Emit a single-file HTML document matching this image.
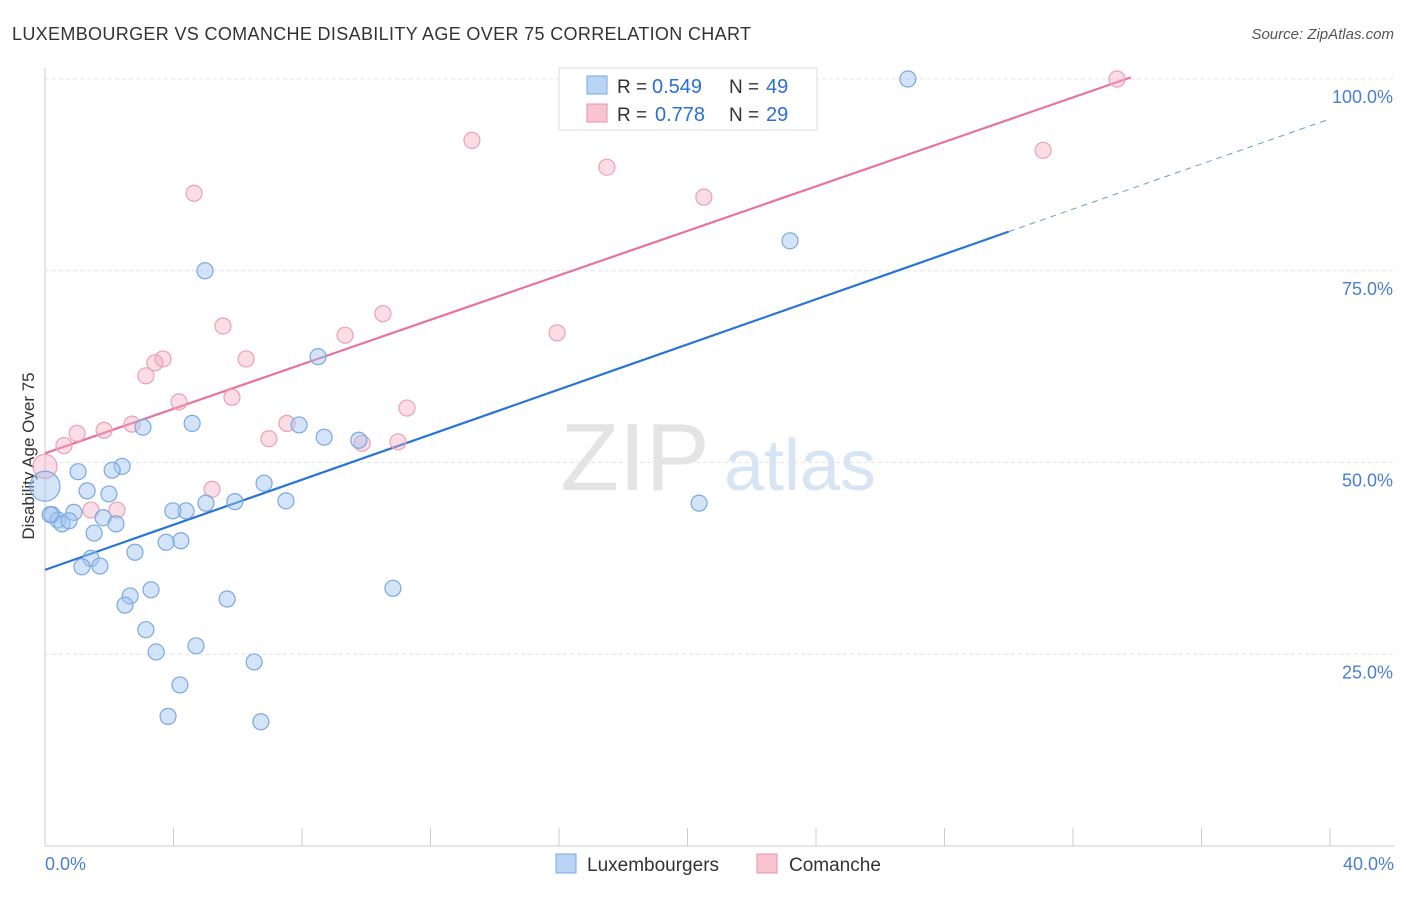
<!DOCTYPE html>
<html><head><meta charset="utf-8"><style>
body{margin:0;background:#fff;font-family:"Liberation Sans",sans-serif}
svg text{font-family:"Liberation Sans",sans-serif}
</style></head><body>
<svg id="c" width="1406" height="892" xmlns="http://www.w3.org/2000/svg">
<text x="12" y="40" font-size="18" fill="#333" textLength="739" lengthAdjust="spacing">LUXEMBOURGER VS COMANCHE DISABILITY AGE OVER 75 CORRELATION CHART</text>
<text x="1394" y="39" font-size="15" fill="#555" text-anchor="end" font-style="italic">Source: ZipAtlas.com</text>
<g id="grid"></g>
<g>
<text x="635" y="490" font-size="96" fill="#e4e4e4" text-anchor="middle" font-family="Liberation Serif">ZIP</text>
<text x="800" y="490" font-size="72" fill="#d6e4f4" text-anchor="middle">atlas</text>
</g>
<text transform="translate(34,456) rotate(-90)" font-size="17" fill="#333" text-anchor="middle">Disability Age Over 75</text>
<g id="lines"></g>
<g id="pts"></g>
<g>
<rect x="559" y="68" width="258" height="62" fill="#fff" stroke="#ddd"/>
<rect x="587" y="76" width="20" height="18" fill="#b8d3f4" stroke="#7aa8e0"/>
<rect x="587" y="104" width="20" height="18" fill="#f8c4d2" stroke="#e890a8"/>
<text x="617" y="93" font-size="19" fill="#333">R =</text>
<text x="652" y="93" font-size="20" fill="#2a6fd6">0.549</text>
<text x="729" y="93" font-size="19" fill="#333">N =</text>
<text x="766" y="93" font-size="20" fill="#2a6fd6">49</text>
<text x="617" y="121" font-size="19" fill="#333">R =</text>
<text x="655" y="121" font-size="20" fill="#2a6fd6">0.778</text>
<text x="729" y="121" font-size="19" fill="#333">N =</text>
<text x="766" y="121" font-size="20" fill="#2a6fd6">29</text>
</g>
<g>
<rect x="556" y="854" width="20" height="19" fill="#b8d3f4" stroke="#7aa8e0"/>
<text x="587" y="871" font-size="19" fill="#333">Luxembourgers</text>
<rect x="757" y="854" width="20" height="19" fill="#f8c4d2" stroke="#e890a8"/>
<text x="789" y="871" font-size="19" fill="#333">Comanche</text>
</g>
</svg>
<script>
const xTicks=[0,4,8,12,16,20,24,28,32,36,40];
const yTicks=[25,50,75,100];
const blueX=[26.86,23.19,4.98,8.50,20.36,10.83,3.05,4.58,7.91,8.69,9.77,2.40,1.03,2.09,1.31,1.99,6.82,5.91,7.50,5.01,4.39,3.98,0.90,1.81,2.21,0.22,0.40,0.53,0.75,1.53,4.23,3.77,2.80,1.43,1.71,1.15,3.30,2.65,2.49,5.67,3.14,4.70,3.46,6.51,4.20,3.83,6.72,0,0.16];
const blueY=[100,78.9,75.0,63.8,44.7,33.6,54.6,55.1,54.9,53.3,52.9,49.5,48.8,49.0,46.3,45.9,47.3,44.9,45.0,44.7,43.7,43.7,43.5,42.8,42.0,43.2,42.5,42.0,42.4,40.8,39.8,39.6,38.3,37.5,36.5,36.4,33.4,32.6,31.4,32.2,28.2,26.1,25.3,24.0,21.0,16.9,16.2,46.9,43.2];
const blueR=blueX.map((v,i)=>i===47?15:8);
const pinkX=[33.37,13.29,17.49,4.64,20.51,31.07,5.54,10.52,9.34,15.94,3.67,3.42,6.26,3.14,4.17,5.82,11.27,2.71,1.84,1.00,0.59,7.53,6.97,9.87,10.99,5.20,1.43,2.24,0];
const pinkY=[100,92.0,88.5,85.1,84.6,90.7,67.8,69.4,66.6,66.9,63.5,63.0,63.5,61.3,57.9,58.5,57.1,55.0,54.2,53.8,52.2,55.1,53.1,52.5,52.7,46.5,43.8,43.8,49.5];
const pinkR=pinkX.map((v,i)=>i===28?12:8);
const blueTrend=[36.0,1.47];const pinkTrend=[51.2,1.45];
const X=v=>45+v*32.125, Y=v=>846-v*7.67;
const NS='http://www.w3.org/2000/svg';
function mk(t,a,p){const e=document.createElementNS(NS,t);for(const k in a)e.setAttribute(k,a[k]);p.appendChild(e);return e;}
const g=document.getElementById('grid');
yTicks.forEach(v=>{const l=mk('line',{x1:45,x2:1394,y1:Y(v),y2:Y(v),stroke:'#e4e4e4','stroke-dasharray':'4,3'},g);


const t=mk('text',{x:1393,y:Y(v)+24,'font-size':18,fill:'#4a7fd0','text-anchor':'end'},g);t.textContent=v.toFixed(1)+'%';

});
const ax=mk('line',{x1:45,x2:1394,y1:846,y2:846,stroke:'#ccc'},g);


const ay=mk('line',{x1:45,x2:45,y1:68,y2:846,stroke:'#ccc'},g);


xTicks.forEach(v=>{const l=mk('line',{x1:X(v),x2:X(v),y1:828,y2:846,stroke:'#ccc'},g);

});
[[0,'0.0%','start',45],[40,'40.0%','end',1394]].forEach(d=>{const t=mk('text',{x:d[3],y:870,'font-size':18,fill:'#4a7fd0','text-anchor':d[2]},g);t.textContent=d[1];

});
const L=document.getElementById('lines');
const b1=mk('line',{x1:X(0),y1:Y(blueTrend[0]),x2:X(30),y2:Y(blueTrend[0]+30*blueTrend[1]),stroke:'#2a74d6','stroke-width':2.2},L);


const b2=mk('line',{x1:X(30),y1:Y(blueTrend[0]+30*blueTrend[1]),x2:X(40),y2:Y(blueTrend[0]+40*blueTrend[1]),stroke:'#6a9ad8','stroke-width':1,'stroke-dasharray':'6,5'},L);


const p1=mk('line',{x1:X(0),y1:Y(pinkTrend[0]),x2:X(33.8),y2:Y(pinkTrend[0]+33.8*pinkTrend[1]),stroke:'#e8739a','stroke-width':2.2},L);


const P=document.getElementById('pts');
pinkX.forEach((v,i)=>{const c=mk('circle',{cx:X(v),cy:Y(pinkY[i]),r:pinkR[i],fill:'rgba(245,170,190,0.4)',stroke:'#eaa0b6','stroke-width':1.2},P);

});
blueX.forEach((v,i)=>{const c=mk('circle',{cx:X(v),cy:Y(blueY[i]),r:blueR[i],fill:'rgba(160,195,240,0.45)',stroke:'#7aa8e0','stroke-width':1.2},P);

});
</script>
</body></html>
